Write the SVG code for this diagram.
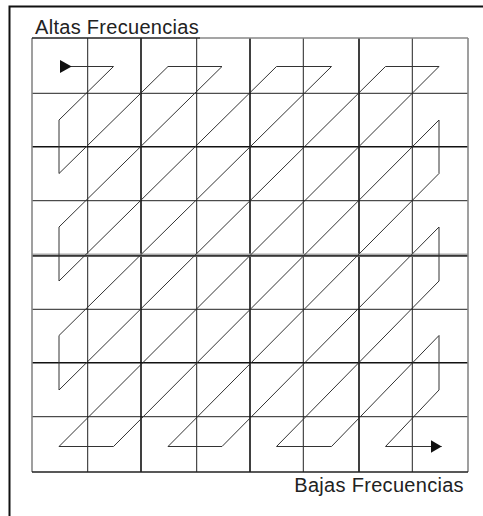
<svg xmlns="http://www.w3.org/2000/svg" width="483" height="516" viewBox="0 0 483 516">
<style>
.frame{fill:none;stroke:#111;stroke-width:2}
.thin{stroke:#222;stroke-width:1;fill:none}
.thick{stroke:#111;stroke-width:1.6;fill:none}
.edge{stroke:#888;stroke-width:1.6;fill:none}
.edgeDark{stroke:#222;stroke-width:1.6;fill:none}
.zig{fill:none;stroke:#333;stroke-width:1;stroke-linejoin:miter}
.lbl{font-family:"Liberation Sans",Arial,sans-serif;font-size:20px;fill:#222;letter-spacing:0.3px}
</style>
<defs>
<marker id="arrStart" markerUnits="userSpaceOnUse" markerWidth="14" markerHeight="14" refX="0" refY="6.5" orient="auto" viewBox="0 0 14 14">
<path d="M0,0 L11.7,6.5 L0,13 Z" fill="#111"/>
</marker>
<marker id="arrEnd" markerUnits="userSpaceOnUse" markerWidth="14" markerHeight="14" refX="11" refY="6.5" orient="auto" viewBox="0 0 14 14">
<path d="M0,0 L11,6.5 L0,13 Z" fill="#111"/>
</marker>
</defs>
<rect width="483" height="516" fill="#fff"/>
<g id="frame">
<path class="frame" d="M9.5,520 V6.5 H490"/>
</g>
<g id="grid">
<path class="thin" d="M87.7,38 V472 M196.7,38 V472 M303.3,38 V472 M412.3,38 V472 M32,93.3 H468 M32,200.7 H468 M32,309.3 H468 M32,416.7 H468"/>
<path class="thick" d="M141,38 V472 M250,38 V472 M359,38 V472 M32,146.7 H468 M32,362.7 H468"/>
<path d="M32,255.3 H468" stroke="#aaa" stroke-width="3.5" fill="none"/>
<path d="M32,255.8 H468" stroke="#111" stroke-width="1.2" fill="none"/>
<path class="edge" d="M32,38 V472 M468,38 V472 M200,38 H468"/>
<path class="edgeDark" d="M32,38 H200 M32,472 H468"/>
</g>
<g id="labels">
<text id="label-altas" class="lbl" x="35" y="34.3">Altas Frecuencias</text>
<text id="label-bajas" class="lbl" x="294.3" y="491.7">Bajas Frecuencias</text>
</g>
<g id="connectors">
<path id="zigzag" class="zig" marker-start="url(#arrStart)" marker-end="url(#arrEnd)" d="M60,66.5 L113.5,66.5 L59,120 L59,173.5 L168,66.5 L222,66.5 L59,227 L59,281 L276.5,66.5 L331.5,66.5 L59,335.5 L59,390 L385.5,66.5 L439,66.5 L59,446.5 L113.5,446.5 L439,120 L439,173.5 L168,446.5 L222,446.5 L439,227 L439,281 L276.5,446.5 L331.5,446.5 L439,335.5 L439,390 L385.5,446.5 L441.7,446.5"/>
</g>
</svg>
